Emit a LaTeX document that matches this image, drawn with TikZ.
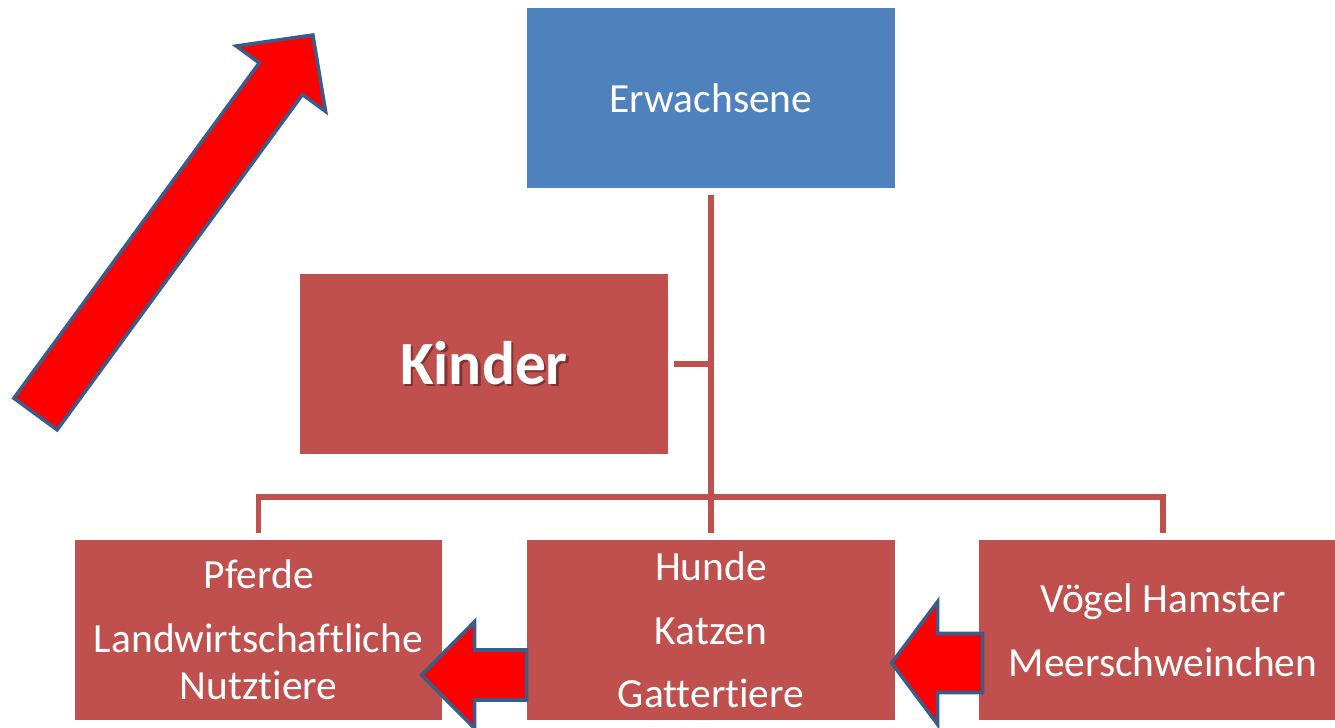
\documentclass[tikz,border=0pt]{standalone}
\usepackage{fontspec}
\setmainfont{Carlito}[Ligatures=NoCommon]
\usepackage{tikz}
\definecolor{adultBlue}{RGB}{79,129,189}
\definecolor{childRed}{RGB}{192,80,77}
\definecolor{arrowLine}{RGB}{56,93,138}
\newcommand{\Shadowed}[1]{\makebox[0pt][l]{\hspace{1.3pt}\raisebox{-1.3pt}{\textcolor{childRed!65!black}{#1}}}#1}
\tikzset{
    box/.style={rectangle,minimum width=7.36cm,minimum height=3.6cm,inner sep=0pt,align=center,text=white,font=\fontsize{23.6}{27.2}\selectfont},
    adult/.style={box,fill=adultBlue},
    child/.style={box,fill=childRed},
    link/.style={draw=childRed,line width=3pt,line join=miter},
    redarrow/.style={fill=red,draw=arrowLine,line width=2pt,line join=miter},
}
\begin{document}
\begin{tikzpicture}[x=0.02cm,y=-0.02cm]
    \useasboundingbox (0,0) rectangle (1335,727);
        \node[adult] (erw) at (711,98) {Erwachsene};
        \node[child,font=\fontsize{35}{40}\selectfont\bfseries] (kinder) at (484,364) {\Shadowed{Kinder}};

        \node[child] (pferde) at (258.5,630) {Pferde\\[9pt]Landwirtschaftliche\\Nutztiere};
        \node[child] (hunde) at (711,630) {Hunde\\[9pt]Katzen\\[9pt]Gattertiere};
        \node[child] (voegel) at (1163,630) {Vögel Hamster\\[9pt]Meerschweinchen};

        % org chart lines
        \coordinate (bus) at (711,497);
        \draw[link,shorten <=0.14cm,shorten >=0.14cm] (erw.south) -- (hunde.north);
        \draw[link,shorten <=0.12cm] (kinder.east) -- (kinder.east -| erw.south);
        \draw[link,shorten <=0.14cm,shorten >=0.14cm] (pferde.north) |- (bus) -| (voegel.north);

        % block arrows
        \begin{scope}[shift={(35.5,414)},rotate=53.8]
            \draw[redarrow] (0,-26.8) -- (415.5,-26.8) -- (415.5,-55.4) -- (469.7,0) -- (415.5,55.4) -- (415.5,26.8) -- (0,26.8) -- cycle;
        \end{scope}
        \begin{scope}[shift={(hunde.west)},yshift=-0.9cm]
            \draw[redarrow] (0,-25) -- (-52,-25) -- (-52,-53.5) -- (-105,0) -- (-52,53.5) -- (-52,25) -- (0,25) -- cycle;
        \end{scope}
        \begin{scope}[shift={(voegel.west)},yshift=-0.66cm]
            \draw[redarrow] (4,-29.5) -- (-41,-29.5) -- (-41,-61.5) -- (-87,0) -- (-41,61.5) -- (-41,29.5) -- (4,29.5) -- cycle;
        \end{scope}
    \end{tikzpicture}
\end{document}
